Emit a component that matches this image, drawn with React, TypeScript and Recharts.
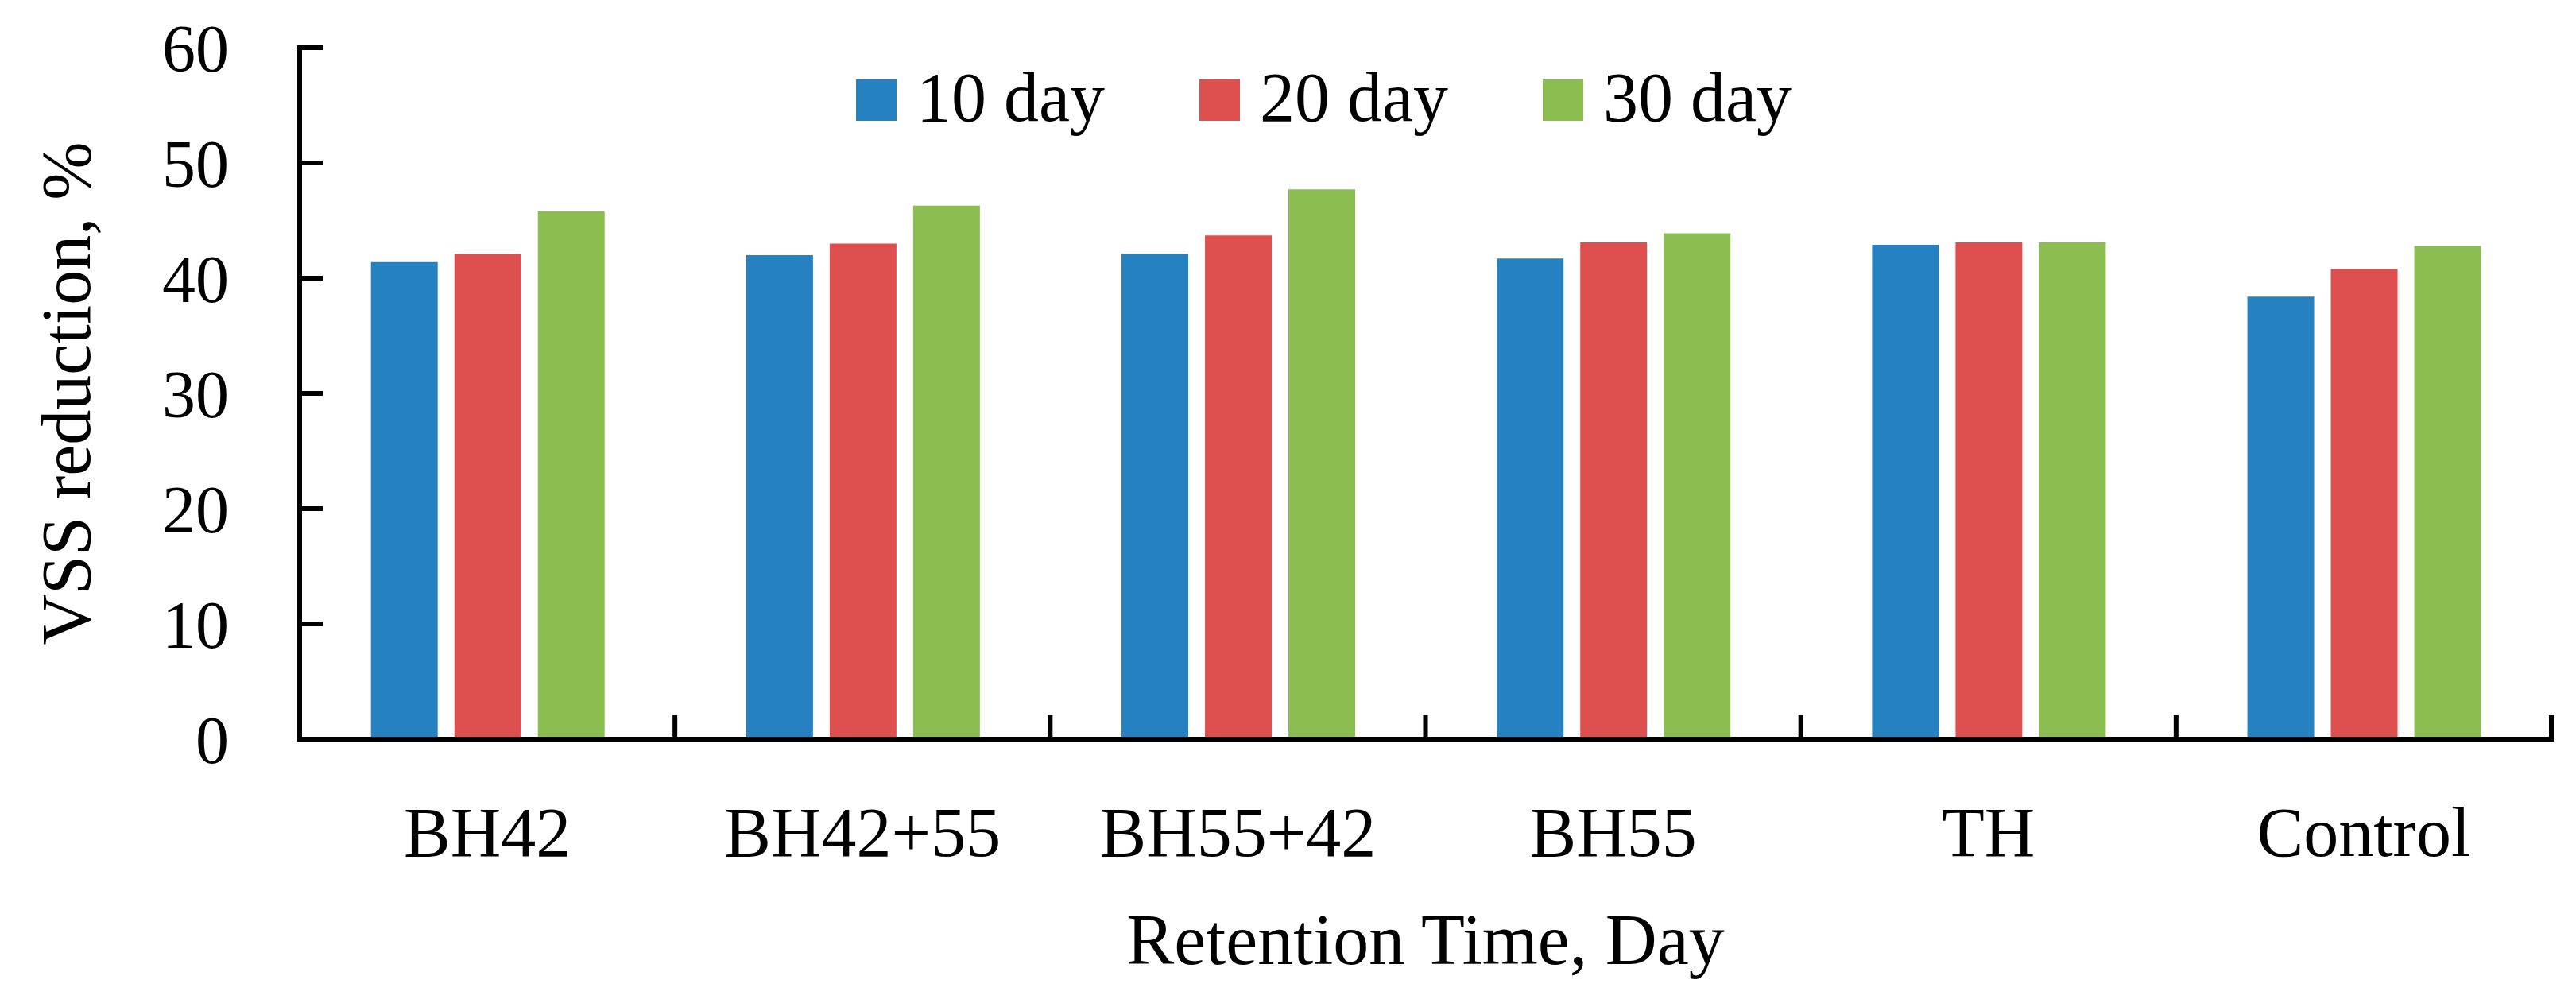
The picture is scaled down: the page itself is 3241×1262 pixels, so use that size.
import { Bar, BarChart, Legend, XAxis, YAxis } from "recharts";

const FONT = "Liberation Serif, DejaVu Serif, serif";

const categories = ["BH42", "BH42+55", "BH55+42", "BH55", "TH", "Control"];
const day10 = [41.4, 42.0, 42.1, 41.7, 42.9, 38.4];
const day20 = [42.1, 43.0, 43.7, 43.1, 43.1, 40.8];
const day30 = [45.8, 46.3, 47.7, 43.9, 43.1, 42.8];
const yTicks = [0, 10, 20, 30, 40, 50, 60];

const data = categories.map((name, i) => ({
  name,
  d10: day10[i],
  d20: day20[i],
  d30: day30[i],
}));

const LABEL_GAP = 85;
const axisStroke = { stroke: "#000", strokeWidth: 6, strokeLinecap: "square" as const };

// label at the band centre, inward tick line at the band's right edge
const CategoryTick = (props: any) => {
  const { x, y, payload, width, visibleTicksCount } = props;
  const half =
    typeof payload.offset === "number" && payload.offset > 0
      ? payload.offset
      : width / visibleTicksCount / 2;
  const axisY = y - LABEL_GAP;
  return (
    <g>
      <line
        x1={x + half}
        x2={x + half}
        y1={axisY}
        y2={axisY - 30}
        stroke="#000"
        strokeWidth={6}
      />
      <text
        x={x}
        y={y}
        dy="0.71em"
        textAnchor="middle"
        fontSize={88}
        fontFamily={FONT}
        fill="#000"
      >
        {payload.value}
      </text>
    </g>
  );
};

const renderLegend = (props: any) => {
  const { payload } = props;
  return (
    <div
      style={{
        display: "flex",
        fontFamily: FONT,
        fontSize: 88,
        lineHeight: "88px",
        color: "#000",
      }}
    >
      {payload.map((entry: any) => (
        <div key={entry.value} style={{ width: 432, whiteSpace: "nowrap" }}>
          <span
            style={{
              display: "inline-block",
              width: 51,
              height: 52,
              background: entry.color,
              marginRight: 25,
            }}
          />
          {entry.value}
        </div>
      ))}
    </div>
  );
};

export default function App() {
  return (
    <div style={{ position: "absolute", left: 0, top: 0, background: "#fff" }}>
      <BarChart
        width={3241}
        height={1262}
        data={data}
        margin={{ top: 60, right: 31, bottom: 0, left: 0 }}
        barCategoryGap="19%"
        barGap={21}
      >
        <XAxis
          dataKey="name"
          height={332}
          axisLine={axisStroke}
          tickLine={false}
          tickSize={0}
          tickMargin={LABEL_GAP}
          interval={0}
          tick={<CategoryTick />}
          label={{
            value: "Retention Time, Day",
            position: "insideBottom",
            offset: 49,
            fontSize: 90,
            fill: "#000",
            fontFamily: FONT,
          }}
        />
        <YAxis
          width={377}
          domain={[0, 60]}
          ticks={yTicks}
          interval={0}
          axisLine={axisStroke}
          tickLine={{ stroke: "#000", strokeWidth: 6 }}
          tickSize={-29}
          tickMargin={118}
          tick={{ fontSize: 84, fill: "#000", fontFamily: FONT }}
          label={{
            value: "VSS reduction, %",
            angle: -90,
            position: "insideLeft",
            offset: 82,
            fontSize: 88,
            fill: "#000",
            fontFamily: FONT,
            style: { textAnchor: "middle" },
          }}
        />
        <Legend
          layout="horizontal"
          verticalAlign="middle"
          align="center"
          content={renderLegend}
          wrapperStyle={{ left: 1077, top: 79, width: 1400, height: 100 }}
        />
        <Bar dataKey="d10" name="10 day" fill="#2581C0" isAnimationActive={false} />
        <Bar dataKey="d20" name="20 day" fill="#DE504F" isAnimationActive={false} />
        <Bar dataKey="d30" name="30 day" fill="#8CBD50" isAnimationActive={false} />
      </BarChart>
    </div>
  );
}
